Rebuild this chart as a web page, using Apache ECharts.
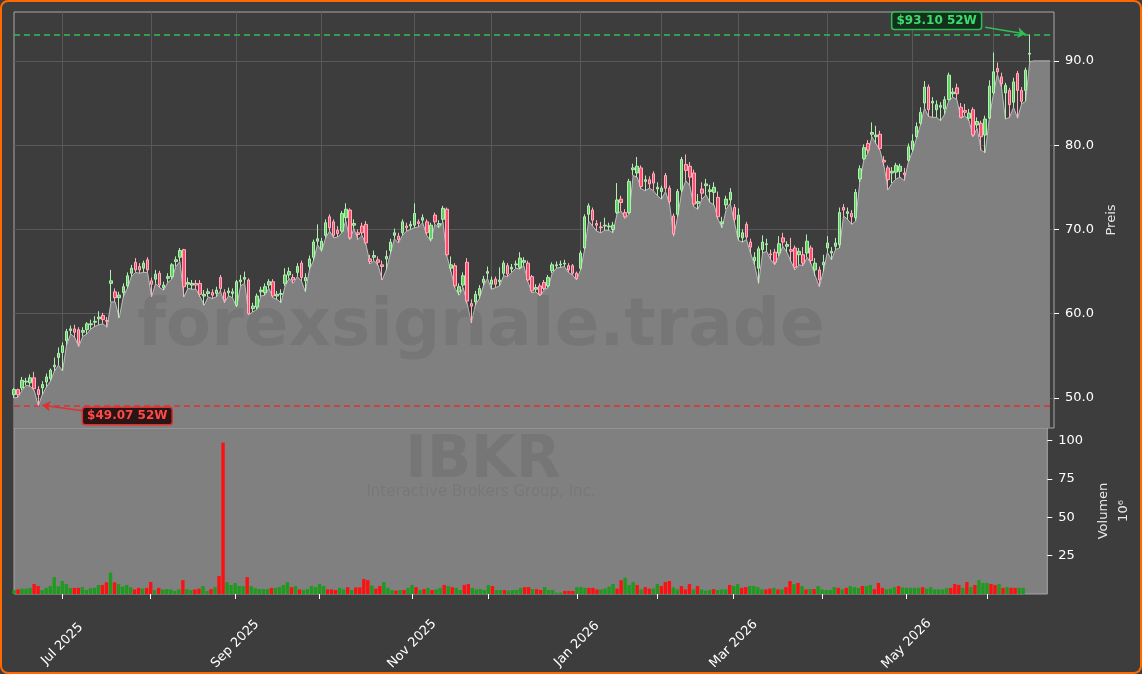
<!DOCTYPE html>
<html><head><meta charset="utf-8">
<script src="https://cdn.jsdelivr.net/npm/echarts@6/dist/echarts.min.js"></script>
<style>
html,body{margin:0;padding:0;background:#3d3d3d;}
#c{width:1142px;height:674px;position:absolute;left:0;top:0;}
#frame{position:absolute;left:0;top:0;width:1142px;height:674px;box-sizing:border-box;border:2px solid #ff6a00;border-radius:8px;pointer-events:none;}
</style></head><body>
<div id="c"></div><div id="frame"></div>
<script>
// ---- data ----
const startDate = '2025-06-12';
const endDate = '2026-06-12';
const holidays = ['2025-06-19','2025-07-04','2025-09-01','2025-11-27','2025-12-25','2026-01-01','2026-01-19','2026-02-16','2026-04-03','2026-05-25'];
const monthNames = ['Jan','Feb','Mar','Apr','May','Jun','Jul','Aug','Sep','Oct','Nov','Dec'];
const labeledMonths = [1,3,5,7,9,11];
const priceTicks = [50,60,70,80,90];
const volumeTicks = [25,50,75,100];
// [open, close, low, high]
const ohlc = [
[50.4,51.0,50.0,51.2],[51.0,50.4,50.1,51.1],[51.2,52.1,50.9,52.5],[51.9,52.0,51.5,52.4],[51.8,52.4,51.4,52.8],
[52.4,51.1,50.9,53.1],[51.0,50.4,49.07,51.4],[51.2,51.6,50.4,52.0],[51.9,52.5,51.3,52.9],[52.3,53.3,52.0,53.5],
[53.7,53.9,53.2,54.8],[54.8,55.3,53.9,56.0],[55.4,56.2,53.2,56.6],[56.8,57.9,56.3,58.2],[58.0,58.2,57.6,58.6],
[58.2,57.8,57.2,58.7],[58.1,56.5,56.1,58.4],[57.8,58.0,57.3,58.4],[58.1,58.8,57.6,59.0],[58.7,58.8,58.2,59.3],
[59.0,59.1,58.5,59.7],[59.4,59.6,58.7,60.3],[59.8,59.3,58.8,60.1],[59.2,59.1,58.4,59.6],[63.6,63.9,61.4,65.2],
[62.6,61.9,61.4,63.0],[61.9,62.2,59.5,62.6],[62.5,63.2,62.0,63.6],[63.3,64.5,63.0,64.9],[64.8,65.4,64.4,65.8],
[66.1,65.2,64.9,66.6],[65.6,65.2,64.8,66.0],[65.4,66.0,64.9,66.3],[66.4,65.2,64.9,66.7],[63.9,63.5,62.0,64.3],
[64.1,64.7,63.6,65.2],[64.8,63.4,63.1,65.1],[63.1,63.4,62.8,63.8],[64.2,64.4,63.7,64.8],[64.4,65.8,64.1,66.0],
[66.2,66.4,65.6,66.8],[66.7,67.5,66.2,67.8],[67.6,63.2,62.0,67.7],[63.5,63.7,63.0,64.3],[63.4,63.6,62.9,64.0],
[63.6,63.4,62.9,64.0],[63.6,62.3,62.0,64.0],[62.1,62.3,61.0,62.8],[62.4,62.6,62.0,63.0],[62.5,62.2,61.8,62.9],
[62.4,62.8,62.0,63.2],[64.3,63.0,62.7,64.6],[62.5,61.6,61.3,62.9],[62.5,62.7,62.1,63.1],[62.4,62.6,61.9,63.0],
[61.0,63.8,60.8,64.0],[63.8,64.0,63.3,64.6],[64.1,64.3,63.6,65.0],[64.0,60.0,59.9,64.2],[60.6,60.9,60.2,61.3],
[60.8,62.1,60.5,62.4],[62.6,62.8,62.1,63.2],[62.5,63.2,62.2,63.6],[63.4,63.8,63.0,64.1],[63.8,62.1,61.9,64.1],
[62.1,62.3,61.7,62.7],[62.3,62.4,61.3,62.9],[63.6,64.6,63.3,65.4],[64.6,65.0,64.2,65.5],[64.3,64.0,63.6,64.7],
[64.9,65.6,64.4,66.0],[66.0,64.3,63.9,66.3],[63.9,64.3,62.6,64.8],[65.6,66.5,65.2,66.9],[66.7,68.5,66.3,68.8],
[68.6,68.9,68.2,70.6],[67.7,68.6,67.4,69.0],[69.3,70.8,69.0,71.2],[71.5,70.2,69.8,71.8],[70.9,69.3,69.0,71.2],
[69.9,69.5,69.1,70.4],[69.8,71.9,69.6,72.2],[71.4,72.4,71.0,73.1],[72.3,69.0,68.8,72.5],[70.5,70.7,70.1,71.2],
[69.6,69.4,68.8,70.0],[70.4,69.6,69.3,70.8],[70.6,68.4,68.2,71.0],[66.5,66.2,65.9,67.0],[66.7,66.9,66.3,67.5],
[66.4,66.1,65.7,66.8],[65.8,65.6,64.0,66.3],[66.5,66.8,65.2,67.5],[67.5,68.5,67.1,68.9],[69.3,69.6,68.9,70.1],
[69.2,68.8,68.4,69.6],[69.6,70.9,69.3,71.2],[70.4,70.2,69.8,70.8],[70.4,70.6,70.0,71.0],[70.5,71.9,70.2,73.1],
[70.9,70.7,70.3,71.2],[71.1,71.4,70.8,71.8],[70.9,69.6,69.3,71.2],[68.9,70.5,68.6,70.8],[71.7,70.9,70.6,72.0],
[70.5,70.7,70.2,71.1],[71.2,72.5,70.9,72.8],[72.4,67.0,66.8,72.6],[65.4,65.8,65.0,66.8],[65.7,63.3,63.0,66.0],
[62.6,63.2,62.2,63.6],[63.4,64.5,63.1,64.9],[66.1,61.5,61.2,66.6],[61.2,60.9,58.9,61.7],[61.4,62.3,61.0,62.7],
[62.2,63.0,61.8,63.4],[63.7,64.1,63.3,64.5],[64.8,65.0,64.2,65.6],[63.5,64.0,62.9,64.4],[64.1,63.5,63.1,64.4],
[63.8,64.0,63.3,65.5],[64.8,66.0,64.5,66.3],[65.7,64.7,64.4,66.0],[65.3,65.5,64.9,65.9],[65.8,65.9,65.4,66.3],
[65.5,66.6,65.3,67.3],[66.1,66.3,65.7,66.7],[66.0,64.0,63.8,66.3],[64.4,62.7,62.5,64.6],[62.9,63.1,62.6,63.5],
[63.3,62.3,62.1,63.6],[63.7,63.0,62.8,64.0],[63.3,64.3,63.1,64.6],[65.1,65.8,64.8,66.1],[65.7,65.8,65.4,66.2],
[65.8,65.9,65.5,66.3],[65.9,66.0,65.6,66.4],[65.7,65.2,64.9,66.0],[65.7,64.8,64.6,65.9],[64.8,64.2,64.0,65.0],
[65.4,67.2,65.2,67.5],[67.8,71.5,67.6,71.8],[71.8,72.8,71.0,73.1],[72.3,71.1,70.4,72.6],[70.7,70.5,69.8,71.1],
[70.3,70.2,69.6,70.9],[70.4,70.5,69.9,71.4],[70.3,70.4,69.9,70.8],[70.0,70.5,69.6,70.9],[72.0,73.5,71.8,75.5],
[73.6,73.2,72.2,74.0],[72.0,71.5,71.3,72.4],[72.0,75.7,71.8,76.0],[77.1,77.3,76.4,77.8],[76.7,77.5,76.2,78.6],
[77.3,75.1,74.8,77.6],[75.7,75.9,74.6,76.4],[75.9,75.4,74.9,76.3],[76.6,75.5,74.6,76.9],[74.8,75.0,74.0,75.6],
[74.5,74.9,73.6,75.2],[76.4,74.9,74.5,76.7],[74.9,73.3,73.0,75.2],[71.6,69.5,69.2,71.9],[71.8,74.5,71.5,74.8],
[74.7,78.3,74.4,78.6],[77.7,77.0,75.8,78.9],[77.5,76.2,75.2,78.0],[76.7,73.0,72.7,77.1],[73.1,73.3,72.4,74.2],
[74.8,74.3,73.6,75.6],[75.2,75.4,74.1,76.0],[74.5,74.7,73.2,75.3],[74.4,75.0,72.9,75.6],[73.8,71.5,71.2,74.5],
[70.7,70.9,70.2,71.5],[72.9,73.6,72.4,74.0],[73.5,74.4,73.1,74.9],[72.6,71.2,70.9,73.0],[69.1,71.7,68.7,72.5],
[69.0,69.6,68.5,70.0],[70.6,69.1,68.8,70.9],[68.5,67.9,67.2,68.9],[66.3,66.7,65.8,67.3],[65.4,67.7,63.6,68.0],
[67.6,68.5,67.2,69.3],[68.2,68.3,67.4,68.9],[67.1,67.0,66.4,67.6],[67.3,66.1,65.8,67.7],[67.2,68.3,66.8,69.2],
[69.0,68.5,68.0,69.6],[68.0,68.2,67.3,68.6],[67.6,67.4,66.2,69.0],[67.8,65.5,65.2,68.1],[67.0,67.4,65.8,67.8],
[67.0,66.0,65.7,67.9],[67.2,68.6,66.7,69.4],[67.8,66.3,65.9,68.1],[65.2,66.0,64.5,66.6],[65.2,64.0,63.2,65.6],
[65.8,66.1,65.0,67.0],[67.8,68.4,67.3,69.2],[67.2,67.4,66.4,67.9],[68.0,68.4,67.6,69.0],[68.2,72.0,67.8,72.6],
[72.6,72.3,71.6,73.0],[71.9,72.1,71.2,72.6],[71.9,71.5,70.6,72.3],[71.4,74.4,71.0,74.8],[76.0,77.2,75.6,77.6],
[78.4,79.7,78.2,80.1],[80.2,79.4,79.0,80.6],[81.3,81.5,81.0,82.7],[81.0,81.2,80.2,82.3],[81.3,79.6,79.4,81.7],
[78.2,78.0,77.5,78.7],[77.3,75.9,74.7,77.6],[76.7,76.9,75.5,77.4],[76.8,77.6,76.0,77.9],[76.9,77.5,76.2,77.8],
[76.7,76.5,75.8,77.3],[78.2,79.8,78.0,80.2],[79.5,80.5,79.2,81.3],[81.0,82.2,80.8,82.7],[82.6,83.9,82.4,84.5],
[85.0,86.9,84.4,87.6],[86.9,84.2,83.4,87.2],[85.0,85.2,83.3,85.7],[84.2,84.8,83.3,85.3],[84.5,84.7,82.9,85.1],
[84.3,85.4,83.7,85.8],[85.4,88.3,85.3,88.6],[86.1,86.3,85.7,86.8],[86.8,86.1,85.4,87.3],[84.5,83.3,83.2,85.0],
[84.1,83.9,83.5,84.9],[83.2,83.8,82.9,84.3],[84.2,81.2,81.0,84.5],[82.4,82.8,82.0,83.3],[82.6,81.0,79.4,82.9],
[81.2,83.1,79.1,83.5],[83.2,87.0,83.1,87.7],[86.2,88.7,86.0,91.0],[89.1,88.7,88.4,89.8],[88.1,87.3,86.9,88.6],
[86.2,87.1,83.1,87.4],[86.5,84.8,83.3,86.8],[85.1,87.5,84.5,88.0],[88.5,86.5,83.2,88.8],[86.5,85.2,84.9,86.9],
[86.5,88.9,85.2,89.2],[90.8,90.9,89.9,93.1]
];
// volume in millions
const volume = [
2.6,3.0,3.5,3.5,4.0,6.5,5.2,2.6,4.0,5.2,
11,5,8.5,6.5,4,4,4,4.5,2.6,3.7,
4,5.9,5.9,7.6,14,7.6,6.5,4.8,5.9,4.5,
3,4,3.5,4,7.8,2.6,4,3,3.2,3,
2,3,9,3.2,2.6,3,3.5,5.2,2,3.2,
4.5,11.7,98.7,7.8,5.9,7.2,5.2,5.2,11,5.2,
3.7,3.2,3.2,3.2,4,4,4.5,5.9,7.8,4.5,
5.2,3,2.6,3.2,5.2,4.5,6.5,5.2,3,3,
2.6,4,3,4.5,2.6,4.3,4.3,9.8,9,5.6,
3.5,5.2,7.8,4,2.6,2.2,2.6,2.6,4,5.9,
4.5,2.6,3.2,4,2.6,3,4,5.9,5.2,4.5,
4,2.6,5.9,6.5,4,3,3.2,2.6,5.9,5.2,
2.6,2.6,2.6,2.2,2.6,2.6,4,4.5,4.5,3.2,
3.2,2.6,4.5,2.6,2.6,0.9,1.0,2,2,2,
4.5,4.5,4,4,4,3,3,3.5,4.8,6.5,
3.5,9,10.7,5.9,7.8,5.9,3,4.5,3.5,3.5,
6.5,5.2,7.8,8.5,4.3,3,5.2,3,6.5,3,
5.2,3,2.2,2.6,3.2,2.6,3,3,5.9,5.2,
6.5,4,4.5,5.2,5.2,4.5,3,3,3.5,4,
3,3,4.5,8.5,6.5,7.2,5.2,3,3.2,3.2,
5.2,3,2.6,2.6,4.5,4,3,4,5.2,4.5,
4,5.2,5.2,5.9,3.2,7.2,4,3,3.5,4.5,
5.2,4.3,4,4,4,4,4.5,3.5,4.5,3,
3,3,4,4,6.5,5.9,4,7.8,4.5,5.9,
9,7.2,7.2,6.5,5.9,6.5,4,4.5,4,4,
4,4
];
const areaTail = [90.0,90.0,90.0,90.0,90.0];
const high52 = 93.10, low52 = 49.07;

// ---- categories ----
const categories = [];
for (let d = new Date(startDate + 'T12:00:00Z'); d <= new Date(endDate + 'T12:00:00Z'); d.setUTCDate(d.getUTCDate() + 1)) {
  const wd = d.getUTCDay(); const s = d.toISOString().slice(0, 10);
  if (wd === 0 || wd === 6 || holidays.includes(s)) continue;
  categories.push(s);
}
const padCats = ['p0','p1','p2','p3','p4','p5'];
const axisCats = categories.concat(padCats);
const monthStart = axisCats.map((c, i) => i > 0 && i < categories.length && c.slice(0, 7) !== categories[i - 1].slice(0, 7));
const labelFlag = axisCats.map((c, i) => monthStart[i] && labeledMonths.includes(+c.slice(5, 7)));

const lows = ohlc.map(d => d[2]);
const areaData = lows.concat(areaTail);
const volData = volume.map((v, i) => ({ value: v, itemStyle: { color: ohlc[i][1] >= ohlc[i][0] ? '#1f9a1f' : '#ff1010' } }));

const FONT = 'DejaVu Sans';
const chart = echarts.init(document.getElementById('c'));
chart.setOption({
  backgroundColor: '#3d3d3d',
  animation: false,
  grid: [
    { left: 14, right: 88, top: 12, height: 416, show: true, backgroundColor: 'transparent', borderColor: '#a8a8a8', borderWidth: 1 },
    { left: 14, right: 88, top: 428, height: 166, show: true, backgroundColor: '#808080', borderColor: '#a8a8a8', borderWidth: 1 }
  ],
  xAxis: [
    { type: 'category', gridIndex: 0, data: axisCats, boundaryGap: false,
      axisLine: { show: false }, axisTick: { show: false }, axisLabel: { show: false },
      splitLine: { show: true, interval: (i) => monthStart[i], lineStyle: { color: '#595959', width: 1 } } },
    { type: 'category', gridIndex: 1, data: axisCats, boundaryGap: false,
      axisLine: { show: false },
      axisTick: { show: true, interval: (i) => monthStart[i], length: 5, lineStyle: { color: '#ffffff' } },
      axisLabel: { interval: (i) => labelFlag[i], rotate: 45, align: 'center', verticalAlign: 'middle', margin: 50,
        color: '#ffffff', fontSize: 13, fontFamily: FONT,
        formatter: (v) => v.length === 10 ? monthNames[+v.slice(5, 7) - 1] + ' ' + v.slice(0, 4) : '' },
      splitLine: { show: false } }
  ],
  yAxis: [
    { type: 'value', gridIndex: 0, position: 'right', min: 46.44, max: 95.8,
      axisLine: { show: false },
      axisTick: { show: true, length: 5, customValues: priceTicks, lineStyle: { color: '#ffffff' } },
      axisLabel: { color: '#ffffff', fontSize: 13, fontFamily: FONT, margin: 11, customValues: priceTicks, formatter: (v) => v.toFixed(1) },
      splitLine: { show: true, lineStyle: { color: '#595959', width: 1 } },
      name: 'Preis', nameLocation: 'middle', nameRotate: 90, nameGap: 46,
      nameTextStyle: { color: '#e6e6e6', fontSize: 13, fontFamily: FONT } },
    { type: 'value', gridIndex: 1, position: 'right', min: 0, max: 108.3,
      axisLine: { show: false },
      axisTick: { show: true, length: 5, customValues: volumeTicks, lineStyle: { color: '#ffffff' } },
      axisLabel: { color: '#ffffff', fontSize: 13, fontFamily: FONT, margin: 11, customValues: volumeTicks },
      splitLine: { show: false },
      name: 'Volumen\n10⁶', nameLocation: 'middle', nameRotate: 90, nameGap: 40,
      nameTextStyle: { color: '#e6e6e6', fontSize: 13, fontFamily: FONT, lineHeight: 20 } }
  ],
  graphic: [
    { type: 'text', x: 481, y: 328, z: 2, silent: true,
      style: { text: 'forexsignale.trade', font: 'bold 66px "DejaVu Sans"', fill: 'rgba(0,0,0,0.08)', align: 'center', verticalAlign: 'middle' } },
    { type: 'text', x: 483, y: 462, z: 2, silent: true,
      style: { text: 'IBKR', font: 'bold 58px "DejaVu Sans"', fill: 'rgba(0,0,0,0.08)', align: 'center', verticalAlign: 'middle' } },
    { type: 'text', x: 481, y: 492, z: 2, silent: true,
      style: { text: 'Interactive Brokers Group, Inc.', font: '15px "DejaVu Sans"', fill: 'rgba(0,0,0,0.07)', align: 'center', verticalAlign: 'middle' } }
  ],
  series: [
    { type: 'line', xAxisIndex: 0, yAxisIndex: 0, data: areaData, symbol: 'none', z: 1,
      lineStyle: { color: '#bdbdbd', width: 1 }, areaStyle: { color: '#808080', opacity: 1 } },
    { type: 'candlestick', xAxisIndex: 0, yAxisIndex: 0, data: ohlc, barWidth: 3, z: 5,
      itemStyle: { color: '#5fd35f', color0: '#ff4d6d', borderColor: '#b5eeb5', borderColor0: '#ffb0be', borderWidth: 1 },
      markLine: { silent: true, symbol: ['none', 'none'], symbolSize: 8, label: { show: false },
        data: [
          { yAxis: high52, lineStyle: { color: '#2fbf55', type: [6, 4], width: 1.5 } },
          { yAxis: low52, lineStyle: { color: '#e03030', type: [6, 4], width: 1.5 } },
          [ { coord: [240, 93.98], symbol: 'none', lineStyle: { color: '#2fbf55', width: 1.5, type: 'solid' } },
            { coord: [250, 93.2], symbol: 'arrow' } ],
          [ { coord: [17, 48.5], symbol: 'none', lineStyle: { color: '#e03030', width: 1.5, type: 'solid' } },
            { coord: [7, 49.15], symbol: 'arrow' } ]
        ] },
      markPoint: { silent: true, symbol: 'rect', symbolSize: 1, itemStyle: { color: 'rgba(0,0,0,0)' },
        data: [
          { name: '$93.10 52W', coord: [228, 94.75],
            label: { show: true, position: 'inside', formatter: (p) => p.name, color: '#3ddc6e', fontWeight: 'bold', fontSize: 12, fontFamily: FONT,
              backgroundColor: '#12301c', borderColor: '#2fbf55', borderWidth: 1.5, borderRadius: 2, padding: [2, 4, 2, 4] } },
          { name: '$49.07 52W', coord: [28, 47.86],
            label: { show: true, position: 'inside', formatter: (p) => p.name, color: '#ff4a4a', fontWeight: 'bold', fontSize: 12, fontFamily: FONT,
              backgroundColor: '#2a1414', borderColor: '#e03030', borderWidth: 1.5, borderRadius: 2, padding: [2, 4, 2, 4] } }
        ] } },
    { type: 'bar', xAxisIndex: 1, yAxisIndex: 1, data: volData, barWidth: 3.4, z: 3 }
  ]
});
</script>
</body></html>
